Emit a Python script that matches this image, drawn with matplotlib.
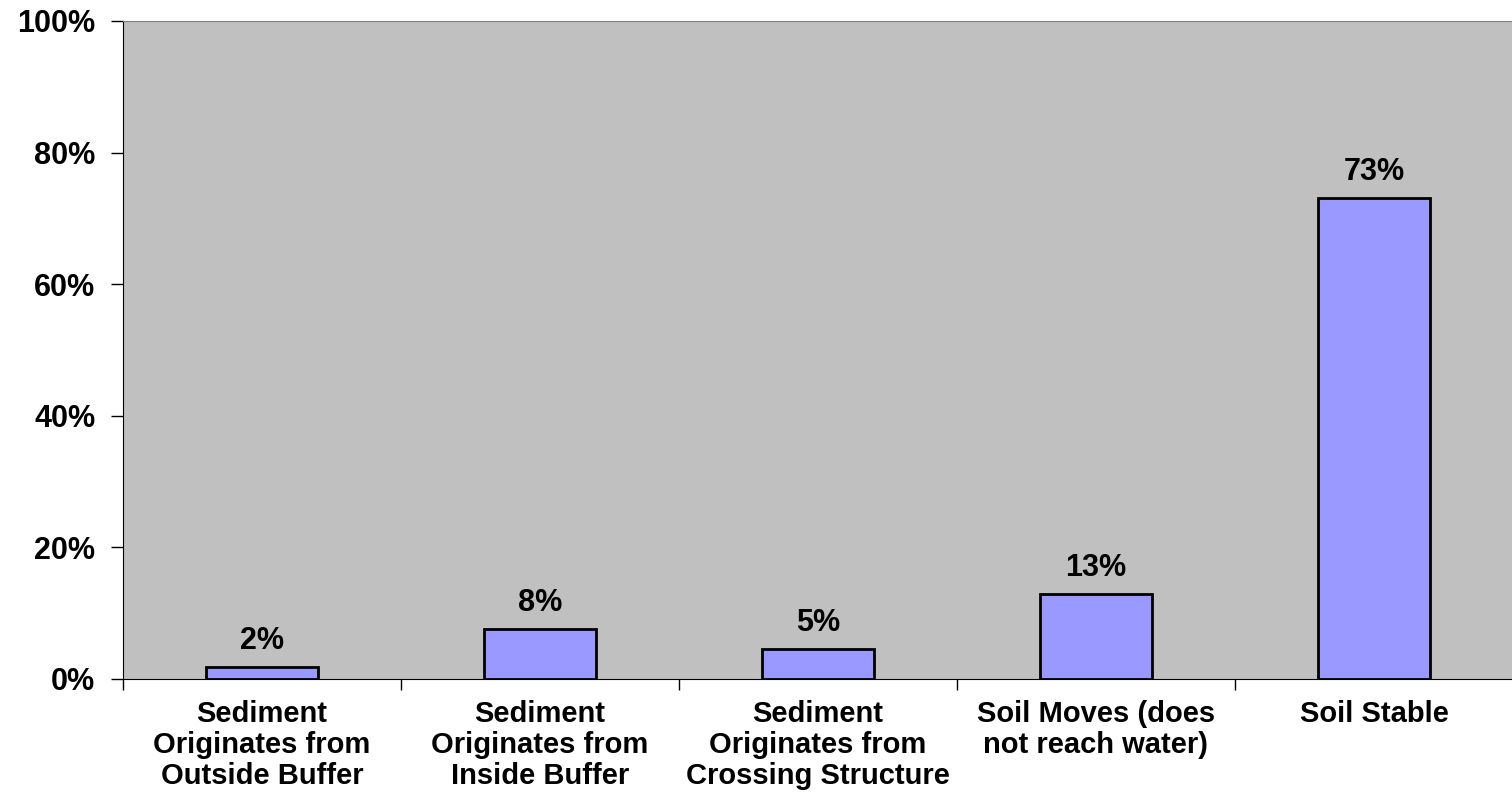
import matplotlib.pyplot as plt
from matplotlib.ticker import FuncFormatter

categories = [
    "Sediment\nOriginates from\nOutside Buffer",
    "Sediment\nOriginates from\nInside Buffer",
    "Sediment\nOriginates from\nCrossing Structure",
    "Soil Moves (does\nnot reach water)",
    "Soil Stable",
]
values = [1.8, 7.6, 4.6, 12.9, 73.1]
value_labels = ["2%", "8%", "5%", "13%", "73%"]
yticks = [0, 20, 40, 60, 80, 100]

plt.rcParams['font.family'] = ['Liberation Sans', 'DejaVu Sans']
plt.rcParams['font.weight'] = 'bold'

fig = plt.figure(figsize=(15.12, 7.95), dpi=100)
ax = fig.add_axes([123 / 1512, 1 - 679 / 795, 1390 / 1512, 658 / 795])
ax.set_facecolor("#C0C0C0")

xlocs = list(range(len(categories)))
bars = ax.bar(xlocs, values, width=0.4, color="#9999FF",
              edgecolor="black", linewidth=2, zorder=3)

for b, lab in zip(bars, value_labels):
    ax.annotate(lab, (b.get_x() + b.get_width() / 2, b.get_height()),
                xytext=(0, 8), textcoords="offset points",
                ha="center", va="bottom", fontsize=22, fontweight="bold")

ax.set_xlim(-0.5, len(categories) - 0.5)
ax.set_ylim(0, 100)
ax.set_yticks(yticks)
ax.yaxis.set_major_formatter(FuncFormatter(lambda v, p: "%d%%" % v))

# category labels in the middle, ticks at the boundaries
ax.set_xticks(xlocs)
ax.set_xticklabels(categories, fontsize=21, fontweight="bold", linespacing=1.15)
ax.tick_params(axis="x", which="major", length=0, pad=15)
ax.set_xticks([i - 0.5 for i in range(len(categories) + 1)], minor=True)
ax.tick_params(axis="x", which="minor", length=8, width=1, direction="out")
ax.tick_params(axis="y", length=9, width=1, direction="out", pad=11,
               labelsize=22)
for t in ax.get_yticklabels():
    t.set_fontweight("bold")

ax.spines["left"].set_color("black")
ax.spines["bottom"].set_color("black")
ax.spines["top"].set_color("#808080")
ax.spines["right"].set_visible(False)

fig.savefig("out.png", dpi=100)
